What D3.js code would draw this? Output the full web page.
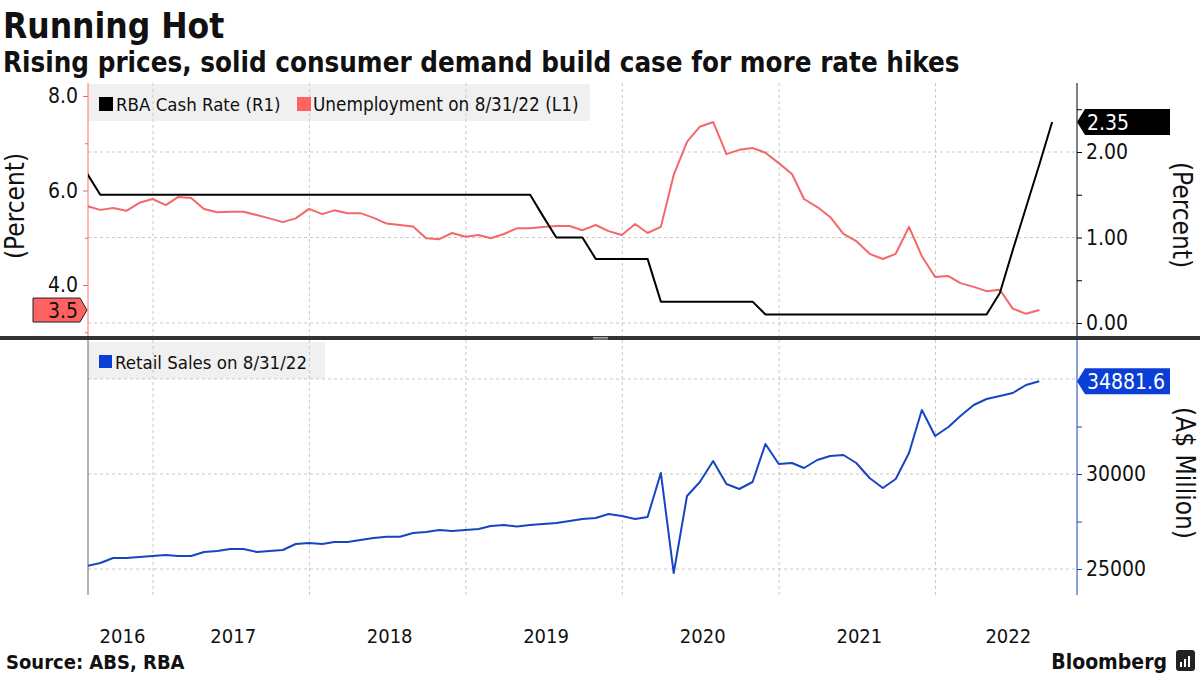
<!DOCTYPE html>
<html><head><meta charset="utf-8">
<script src="https://cdn.jsdelivr.net/npm/d3@7"></script>
<style>
body{margin:0;background:#fff}
svg{display:block}
text{font-family:"DejaVu Sans Condensed","DejaVu Sans",sans-serif;fill:#111}
</style>
</head><body>
<svg id="c" width="1200" height="675"></svg>
<script>
// ---- DATA (monthly, month-end, starting July 2016) ----
const firstYear = 2016, firstMonth = 6; // July (0-based)

const unemployment = [
  5.67, 5.59, 5.63, 5.57, 5.74, 5.82,
  5.69, 5.86, 5.84, 5.61, 5.54, 5.55, 5.55, 5.48, 5.41, 5.33, 5.41, 5.61,
  5.50, 5.58, 5.52, 5.52, 5.42, 5.30, 5.27, 5.24, 4.99, 4.97, 5.10, 5.02,
  5.06, 4.99, 5.08, 5.20, 5.20, 5.23, 5.25, 5.25, 5.16, 5.27, 5.14, 5.06,
  5.29, 5.10, 5.23, 6.33, 7.03, 7.35, 7.45, 6.77, 6.86, 6.90, 6.80, 6.58,
  6.35, 5.82, 5.65, 5.44, 5.08, 4.93, 4.66, 4.55, 4.66, 5.23, 4.61, 4.17,
  4.19, 4.04, 3.96, 3.87, 3.90, 3.50, 3.39, 3.47
];

const retailSales = [
  25158, 25316, 25579, 25579, 25632, 25684,
  25737, 25684, 25684, 25895, 25947, 26053, 26053, 25895, 25947, 26000, 26316, 26368,
  26316, 26421, 26421, 26526, 26632, 26700, 26700, 26895, 26947, 27053, 27000, 27053,
  27105, 27263, 27316, 27240, 27316, 27368, 27421, 27526, 27632, 27684, 27895, 27789,
  27632, 27737, 30053, 24789, 28842, 29579, 30684, 29474, 29211, 29579, 31579, 30526,
  30579, 30316, 30737, 30947, 31000, 30579, 29789, 29263, 29737, 31105, 33368, 32000,
  32474, 33053, 33632, 33947, 34105, 34263, 34684, 34881.6
];

const cashRate = [
  1.75, 1.50, 1.50, 1.50, 1.50, 1.50,
  1.50, 1.50, 1.50, 1.50, 1.50, 1.50, 1.50, 1.50, 1.50, 1.50, 1.50, 1.50,
  1.50, 1.50, 1.50, 1.50, 1.50, 1.50, 1.50, 1.50, 1.50, 1.50, 1.50, 1.50,
  1.50, 1.50, 1.50, 1.50, 1.50, 1.25, 1.00, 1.00, 1.00, 0.75, 0.75, 0.75,
  0.75, 0.75, 0.25, 0.25, 0.25, 0.25, 0.25, 0.25, 0.25, 0.25, 0.10, 0.10,
  0.10, 0.10, 0.10, 0.10, 0.10, 0.10, 0.10, 0.10, 0.10, 0.10, 0.10, 0.10,
  0.10, 0.10, 0.10, 0.10, 0.35, 0.85, 1.35, 1.85, 2.35
];

const years = [2016, 2017, 2018, 2019, 2020, 2021, 2022];
const leftTicks = [4, 6, 8], leftMinor = [3, 5, 7];
const rightTicks = [0, 1, 2], rightMinor = [0.5, 1.5, 2.5];
const retailTicks = [25000, 30000], retailGrid = [25000, 30000, 35000], retailMinor = [27500, 32500];

// ---- LAYOUT ----
const L = 88, R = 1077;
const T1 = 83, B1 = 336, T2 = 340, B2 = 595;
const RED = "#f4676a", REDFILL = "#ff6262", BLUE = "#1745c2", BLUEFILL = "#0a3ed6";
const GRID = "#c8c8c8";

const svg = d3.select("#c");
const monthEnd = i => new Date(Date.UTC(firstYear, firstMonth + i + 1, 0));

const x = d3.scaleUtc().domain([Date.UTC(2017,0,1), Date.UTC(2023,0,1)]).range([153, 1092]);
const yL = d3.scaleLinear().domain([4, 8]).range([285, 96]);
const yR = d3.scaleLinear().domain([0, 2]).range([323, 152]);
const yB = d3.scaleLinear().domain([25000, 30000]).range([569, 474]);

svg.append("defs").append("clipPath").attr("id","clipTop")
  .append("rect").attr("x", L).attr("y", T1-5).attr("width", R-L).attr("height", B1-T1+5);
svg.select("defs").append("clipPath").attr("id","clipBot")
  .append("rect").attr("x", L).attr("y", T2).attr("width", R-L).attr("height", B2-T2);

// ---- Titles ----
svg.append("text").attr("x", 3).attr("y", 38).attr("font-size", 35).attr("font-weight", "bold").text("Running Hot");
svg.append("text").attr("x", 3).attr("y", 72).attr("font-size", 27.5).attr("font-weight", "bold")
  .text("Rising prices, solid consumer demand build case for more rate hikes");

// ---- Legend backgrounds ----
svg.append("rect").attr("x", L).attr("y", T1+1).attr("width", 502).attr("height", 37).attr("fill", "#f0f0f0");
svg.append("rect").attr("x", L).attr("y", T2+2).attr("width", 237).attr("height", 37).attr("fill", "#f0f0f0");

// ---- Grid ----
const yearStarts = years.slice(1).concat([2023]).map(y => new Date(Date.UTC(y,0,1)));
const gTop = svg.append("g");
yearStarts.filter(d => x(d) < R).forEach(d => {
  gTop.append("line").attr("x1", x(d)).attr("x2", x(d)).attr("y1", T1).attr("y2", B1)
    .attr("stroke", GRID).attr("stroke-dasharray", "3,3");
  gTop.append("line").attr("x1", x(d)).attr("x2", x(d)).attr("y1", T2).attr("y2", B2)
    .attr("stroke", GRID).attr("stroke-dasharray", "3,3");
});
rightTicks.forEach(v => gTop.append("line").attr("x1", L).attr("x2", R).attr("y1", yR(v)).attr("y2", yR(v))
  .attr("stroke", GRID).attr("stroke-dasharray", "3,3"));
retailGrid.forEach(v => gTop.append("line").attr("x1", L).attr("x2", R).attr("y1", yB(v)).attr("y2", yB(v))
  .attr("stroke", GRID).attr("stroke-dasharray", "3,3"));

// ---- Axes ----
function styleAxis(g, color, size) {
  g.select(".domain").remove();
  g.selectAll(".tick line").attr("stroke", color);
  g.selectAll(".tick text").attr("font-size", size).attr("fill", "#111")
    .style("font-family", '"DejaVu Sans Condensed","DejaVu Sans",sans-serif');
}
// left (unemployment)
svg.append("line").attr("x1", L).attr("x2", L).attr("y1", T1).attr("y2", B1).attr("stroke", "#ff6f6f");
const aL = svg.append("g").attr("transform", `translate(${L},0)`)
  .call(d3.axisLeft(yL).tickValues(leftTicks).tickFormat(d3.format(".1f")).tickSize(5).tickPadding(5));
styleAxis(aL, RED, 21);
svg.append("g").attr("transform", `translate(${L},0)`)
  .call(d3.axisLeft(yL).tickValues(leftMinor).tickFormat("").tickSize(3)).call(g => styleAxis(g, RED, 0));
// right (cash rate)
svg.append("line").attr("x1", R).attr("x2", R).attr("y1", T1).attr("y2", B1).attr("stroke", "#000");
const aR = svg.append("g").attr("transform", `translate(${R},0)`)
  .call(d3.axisRight(yR).tickValues(rightTicks).tickFormat(d3.format(".2f")).tickSize(5).tickPadding(4));
styleAxis(aR, "#000", 21);
svg.append("g").attr("transform", `translate(${R},0)`)
  .call(d3.axisRight(yR).tickValues(rightMinor).tickFormat("").tickSize(5)).call(g => styleAxis(g, "#000", 0));
// bottom panel axes
svg.append("line").attr("x1", L).attr("x2", L).attr("y1", T2).attr("y2", B2).attr("stroke", "#666");
svg.append("line").attr("x1", R).attr("x2", R).attr("y1", T2).attr("y2", B2).attr("stroke", BLUE);
const aB = svg.append("g").attr("transform", `translate(${R},0)`)
  .call(d3.axisRight(yB).tickValues(retailTicks).tickFormat(d3.format("d")).tickSize(5).tickPadding(4));
styleAxis(aB, BLUE, 21);
svg.append("g").attr("transform", `translate(${R},0)`)
  .call(d3.axisRight(yB).tickValues(retailMinor).tickFormat("").tickSize(5)).call(g => styleAxis(g, BLUE, 0));

// axis titles
svg.append("text").attr("transform", "translate(24,206) rotate(-90)").attr("text-anchor", "middle")
  .attr("font-size", 26).text("(Percent)");
svg.append("text").attr("transform", "translate(1173,215) rotate(90)").attr("text-anchor", "middle")
  .attr("font-size", 26).text("(Percent)");
svg.append("text").attr("transform", "translate(1176,473) rotate(90)").attr("text-anchor", "middle")
  .attr("font-size", 26).text("(A$ Million)");

// year labels
years.forEach(y => {
  const a = Math.max(x(new Date(Date.UTC(y,0,1))), L);
  const b = Math.min(x(new Date(Date.UTC(y+1,0,1))), R);
  svg.append("text").attr("x", (a+b)/2 + 2).attr("y", 643).attr("text-anchor", "middle")
    .attr("font-size", 20).text(y);
});

// ---- Lines ----
const lineL = d3.line().x((d,i) => x(monthEnd(i))).y(d => yL(d));
const lineR = d3.line().x((d,i) => x(monthEnd(i))).y(d => yR(d));
const lineB = d3.line().x((d,i) => x(monthEnd(i))).y(d => yB(d));
svg.append("path").attr("clip-path","url(#clipTop)").attr("d", lineL(unemployment)).attr("fill","none")
  .attr("stroke", RED).attr("stroke-width", 2).attr("stroke-linejoin","round");
svg.append("path").attr("clip-path","url(#clipTop)").attr("d", lineR(cashRate)).attr("fill","none")
  .attr("stroke", "#000").attr("stroke-width", 2).attr("stroke-linejoin","round");
svg.append("path").attr("clip-path","url(#clipBot)").attr("d", lineB(retailSales)).attr("fill","none")
  .attr("stroke", BLUE).attr("stroke-width", 2).attr("stroke-linejoin","round");

// ---- Separator ----
svg.append("rect").attr("x", 0).attr("y", B1).attr("width", 1200).attr("height", 4).attr("fill", "#333");
svg.append("line").attr("x1", 593).attr("x2", 608).attr("y1", 337.5).attr("y2", 337.5).attr("stroke", "#aaa");
svg.append("line").attr("x1", 593).attr("x2", 608).attr("y1", 339).attr("y2", 339).attr("stroke", "#aaa");

// ---- Value tags ----
function rightTag(yv, fill, label) {
  svg.append("path").attr("d", `M${R},${yv} L${R+8},${yv-13} L${R+93},${yv-13} L${R+93},${yv+13} L${R+8},${yv+13} Z`)
    .attr("fill", fill);
  svg.append("text").attr("x", R+10).attr("y", yv+7.5).attr("font-size", 21).style("fill", "#fff").text(label);
}
rightTag(yR(cashRate[cashRate.length-1]), "#000", d3.format(".2f")(cashRate[cashRate.length-1]));
rightTag(yB(retailSales[retailSales.length-1]), BLUEFILL, d3.format(".1f")(retailSales[retailSales.length-1]));
{
  const yv = yL(unemployment[unemployment.length-1]);
  svg.append("path").attr("d", `M${L-1},${yv} L${L-8},${yv-12} L33,${yv-12} L33,${yv+12} L${L-8},${yv+12} Z`)
    .attr("fill", REDFILL).attr("stroke", "#222").attr("stroke-width", 1);
  svg.append("text").attr("x", L-10).attr("y", yv+7.5).attr("text-anchor", "end").attr("font-size", 21)
    .text(d3.format(".1f")(unemployment[unemployment.length-1]));
}

// ---- Legends ----
svg.append("rect").attr("x", 99).attr("y", 97).attr("width", 14).attr("height", 14).attr("fill", "#000");
svg.append("text").attr("x", 116).attr("y", 111).attr("font-size", 18.5).text("RBA Cash Rate (R1)");
svg.append("rect").attr("x", 297).attr("y", 97).attr("width", 14).attr("height", 14).attr("fill", REDFILL);
svg.append("text").attr("x", 313).attr("y", 111).attr("font-size", 18.8).text("Unemployment on 8/31/22 (L1)");
svg.append("rect").attr("x", 99).attr("y", 355).attr("width", 13).attr("height", 13).attr("fill", BLUEFILL);
svg.append("text").attr("x", 115).attr("y", 369).attr("font-size", 18.5).text("Retail Sales on 8/31/22");

// ---- Footer ----
svg.append("text").attr("x", 6).attr("y", 669).attr("font-size", 20).attr("font-weight", "bold").text("Source: ABS, RBA");
svg.append("text").attr("x", 1167).attr("y", 669).attr("text-anchor", "end").attr("font-size", 21)
  .attr("font-weight", "bold").text("Bloomberg");
const logo = svg.append("g");
logo.append("rect").attr("x", 1176).attr("y", 650).attr("width", 19).attr("height", 21).attr("rx", 3).attr("fill", "#222");
[[1180,662,2,5],[1184,659,2,8],[1188,656,2,11]].forEach(r =>
  logo.append("rect").attr("x", r[0]).attr("y", r[1]).attr("width", r[2]).attr("height", r[3]).attr("fill", "#fff"));
</script>
</body></html>
